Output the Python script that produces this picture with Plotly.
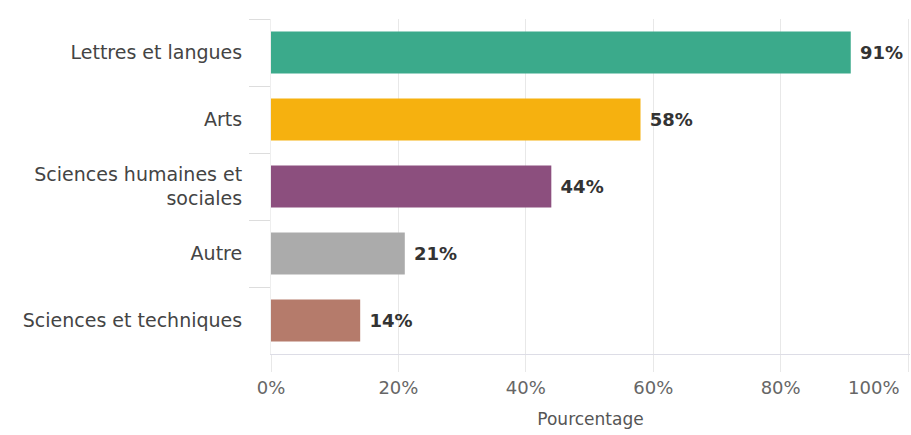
import plotly.graph_objects as go

categories = ["Lettres et langues", "Arts", "Sciences humaines et<br>sociales", "Autre", "Sciences et techniques"]
values = [0.91, 0.58, 0.44, 0.21, 0.14]
labels = ["91%", "58%", "44%", "21%", "14%"]
colors = ["#3BAA8B", "#F6B10F", "#8C4F7E", "#ABABAB", "#B57B6B"]
xticks = [0, 0.2, 0.4, 0.6, 0.8, 1.0]
xticklabels = ["0%", "20%", "40%", "60%", "80%", "100%" + "\u00a0" * 12]

fig = go.Figure(go.Bar(
    x=values, y=categories, orientation="h",
    marker=dict(color=colors, line=dict(width=0)),
    text=labels, texttemplate="\u00a0%{text}", textposition="outside", cliponaxis=False,
    textfont=dict(family="DejaVu Sans", size=18, color="#333333", weight="bold"),
    width=0.63,
))

fig.update_layout(
    width=911, height=435,
    margin=dict(l=271, r=1, t=19, b=81),
    paper_bgcolor="white", plot_bgcolor="white",
    font=dict(family="DejaVu Sans", size=18, color="#555555"),
    showlegend=False,
    xaxis=dict(
        range=[0, 1.003], tickvals=xticks, ticktext=xticklabels,
        ticklabeloverflow="allow",
        showgrid=True, gridcolor="#E8E8E8", gridwidth=1,
        ticks="outside", ticklen=17, tickcolor="#E8E8E8",
        showline=True, linecolor="#DDDDE6",
        zeroline=False,
        title=dict(text="Pourcentage", font=dict(size=17, color="#555555"), standoff=16),
        tickfont=dict(size=18, color="#666666"),
        automargin=False,
    ),
    yaxis=dict(
        autorange="reversed",
        tickson="boundaries", ticks="outside", ticklen=21, tickcolor="#DDDDDD",
        ticklabelstandoff=24,
        showgrid=False, showline=True, linecolor="#EEEEEE",
        tickfont=dict(size=19, color="#444444"),
        automargin=False,
    ),
)

fig.write_html(
    "out.html",
    config={"displayModeBar": False},
    post_script="document.body.style.margin='0';document.body.style.overflow='hidden';",
)
